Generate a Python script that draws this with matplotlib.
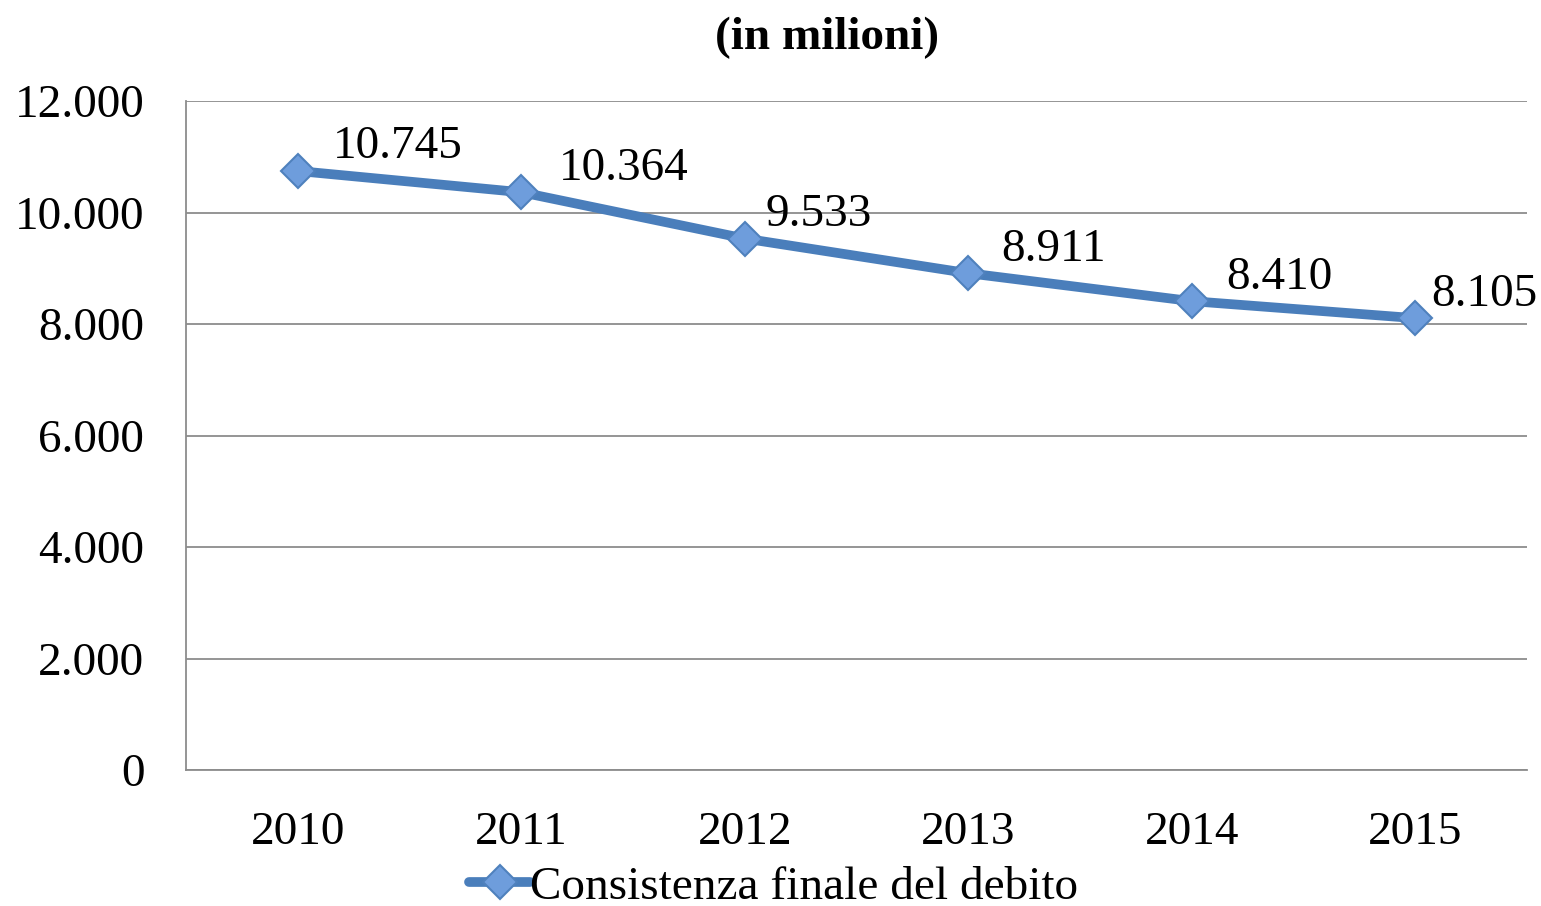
import numpy as np
import matplotlib.pyplot as plt

years = ['2010', '2011', '2012', '2013', '2014', '2015']
debito = [10745, 10364, 9533, 8911, 8410, 8105]
labels = ['10.745', '10.364', '9.533', '8.911', '8.410', '8.105']
yticks = [0, 2000, 4000, 6000, 8000, 10000, 12000]
yticklabels = ['0', '2.000', '4.000', '6.000', '8.000', '10.000', '12.000']

# horizontal nudges of the value labels (points)
label_dx = [25, 27, 15, 24, 25, 11.5]

plt.rcParams['font.family'] = ['Liberation Serif', 'DejaVu Serif']

fig = plt.figure(figsize=(15.41, 9.06), dpi=100)
ax = fig.add_axes([0.1207, 0.1501, 0.8702, 0.7384])

x = np.arange(len(years))
ax.plot(x, debito, color='#4A7EBB', lw=7, marker='D', markersize=17,
        markerfacecolor='#6E9DDC', markeredgecolor='#4F81BD', markeredgewidth=1.5,
        label='Consistenza finale del debito', zorder=3, solid_capstyle='round')

for xi, v, t, dx in zip(x, debito, labels, label_dx):
    ax.annotate(t, (xi, v), xytext=(dx, 9), textcoords='offset points',
                ha='left', va='baseline', fontsize=34)

ax.set_xlim(-0.5, 5.5)
ax.set_ylim(0, 12000)
ax.set_xticks(x)
ax.set_xticklabels(years, fontsize=34)
ax.set_yticks(yticks)
ax.set_yticklabels(yticklabels, fontsize=34)
ax.yaxis.grid(True, color='#8C8C8C', lw=1.3)
ax.set_axisbelow(True)
for s in ['top', 'right']:
    ax.spines[s].set_visible(False)
for s in ['left', 'bottom']:
    ax.spines[s].set_color('#8C8C8C')
    ax.spines[s].set_linewidth(1.3)
ax.tick_params(axis='x', length=0, pad=30)
ax.tick_params(axis='y', length=0, pad=30)

fig.text(0.537, 0.958, '(in milioni)', ha='center', va='center',
         fontsize=34, fontweight='bold')

fig.legend(loc='center', bbox_to_anchor=(0.502, 0.021), frameon=False, fontsize=34,
           handlelength=1.3, handletextpad=0.0, borderpad=0)

fig.savefig('out.png', dpi=100)
